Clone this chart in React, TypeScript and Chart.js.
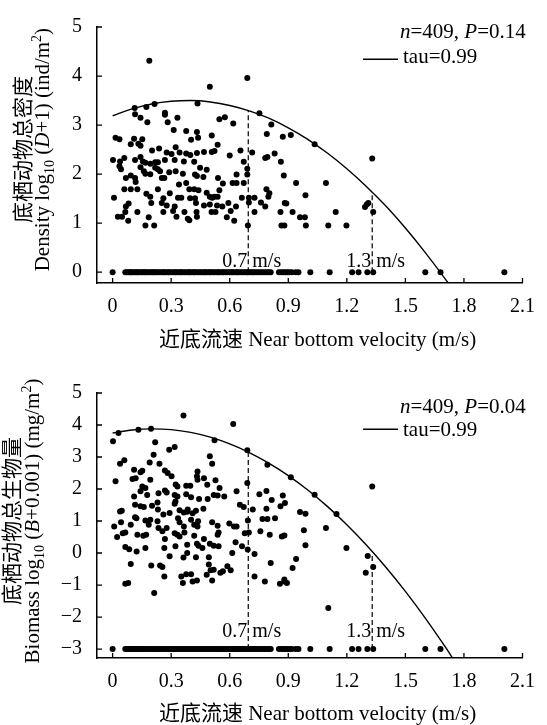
import React, { useEffect, useRef } from "react";
import { Chart, registerables } from "chart.js";

Chart.register(...registerables);

const SERIF = "'Liberation Serif', 'Times New Roman', serif";
const CJK = "'Noto Sans CJK SC', sans-serif";

// ---------- axis ticks ----------
const xTickValues = [0, 0.3, 0.6, 0.9, 1.2, 1.5, 1.8, 2.1];
const xTickLabels = ["0", "0.3", "0.6", "0.9", "1.2", "1.5", "1.8", "2.1"];
const densityTickValues = [0, 1, 2, 3, 4, 5];
const densityTickLabels = ["0", "1", "2", "3", "4", "5"];
const biomassTickValues = [-3, -2, -1, 0, 1, 2, 3, 4, 5];
const biomassTickLabels = ["\u22123", "\u22122", "\u22121", "0", "1", "2", "3", "4", "5"];

// ---------- density (top panel), non-zero samples ----------
const densityVelocity = [
  0.188, 0.69, 0.498, 0.113, 0.173, 0.215, 0.435, 0.115, 0.143, 0.178,
  0.268, 0.268, 0.332, 0.282, 0.547, 0.575, 0.618, 0.752, 0.813, 0.872,
  0.79, 0.015, 0.035, 0.11, 0.152, 0.093, 0.132, 0.143, 0.313, 0.377,
  0.432, 0.438, 0.402, 0.508, 0.538, 0.323, 0.238, 0.202, 0.277, 0.302,
  0.343, 0.377, 0.398, 0.432, 0.468, 0.508, 0.522, 0.6, 0.655, 0.715,
  0.002, 0.038, 0.06, 0.115, 0.143, 0.155, 0.168, 0.193, 0.218, 0.232,
  0.268, 0.318, 0.365, 0.418, 0.672, 0.782, 0.793, 0.83, 0.862, 0.035,
  0.043, 0.143, 0.168, 0.16, 0.193, 0.218, 0.232, 0.243, 0.29, 0.323,
  0.36, 0.448, 0.482, 0.422, 0.432, 0.465, 0.54, 0.635, 0.69, 0.69,
  0.877, 0.068, 0.093, 0.115, 0.118, 0.252, 0.265, 0.34, 0.377, 0.565,
  0.615, 0.635, 0.672, 0.06, 0.093, 0.127, 0.232, 0.293, 0.393, 0.418,
  0.44, 0.482, 0.498, 0.51, 0.538, 0.547, 0.522, 0.007, 0.173, 0.193,
  0.26, 0.335, 0.352, 0.397, 0.422, 0.662, 0.698, 0.727, 0.798, 0.803,
  0.788, 0.068, 0.082, 0.198, 0.252, 0.277, 0.318, 0.427, 0.468, 0.498,
  0.535, 0.562, 0.593, 0.632, 0.698, 0.76, 0.782, 0.882, 0.065, 0.127,
  0.26, 0.31, 0.368, 0.43, 0.507, 0.527, 0.605, 0.727, 0.86, 0.027,
  0.048, 0.185, 0.327, 0.385, 0.393, 0.432, 0.585, 0.623, 0.08, 0.168,
  0.213, 0.693, 0.865, 0.88, 0.913, 1.035, 1.33, 0.94, 1.093, 0.988,
  0.89, 0.922, 0.96, 0.985, 1.143, 1.293, 1.302, 1.31, 1.335, 0.99,
  1.105, 1.198,
];
const densityValue = [
  4.31, 3.96, 3.78, 3.35, 3.37, 3.43, 3.44, 3.22, 3.15, 3.06,
  3.25, 3.21, 3.15, 3.06, 3.12, 3.16, 3.03, 3.24, 3.01, 2.76,
  2.82, 2.74, 2.71, 2.72, 2.71, 2.61, 2.62, 2.58, 2.9, 2.88,
  2.86, 2.74, 2.7, 2.79, 2.6, 2.55, 2.52, 2.48, 2.44, 2.41,
  2.44, 2.42, 2.39, 2.43, 2.45, 2.45, 2.47, 2.38, 2.48, 2.44,
  2.29, 2.26, 2.33, 2.29, 2.35, 2.26, 2.23, 2.21, 2.24, 2.24,
  2.29, 2.29, 2.26, 2.25, 2.25, 2.33, 2.35, 2.42, 2.25, 2.16,
  2.1, 2.14, 2.01, 2.06, 2.0, 2.13, 2.1, 2.06, 2.04, 2.06,
  2.01, 2.13, 2.09, 1.99, 1.96, 1.94, 1.92, 1.99, 2.11, 1.99,
  1.97, 1.92, 1.97, 1.92, 1.84, 1.92, 1.92, 1.79, 1.82, 1.81,
  1.82, 1.82, 1.82, 1.69, 1.69, 1.69, 1.69, 1.61, 1.69, 1.69,
  1.67, 1.62, 1.54, 1.52, 1.54, 1.67, 1.54, 1.52, 1.6, 1.54,
  1.51, 1.52, 1.52, 1.51, 1.51, 1.52, 1.52, 1.52, 1.54, 1.61,
  1.69, 1.34, 1.4, 1.41, 1.41, 1.36, 1.34, 1.41, 1.36, 1.38,
  1.36, 1.34, 1.41, 1.34, 1.42, 1.42, 1.34, 1.41, 1.23, 1.23,
  1.23, 1.25, 1.23, 1.23, 1.23, 1.23, 1.25, 1.23, 1.23, 1.13,
  1.13, 1.12, 1.13, 1.09, 1.06, 1.13, 1.12, 1.05, 1.05, 0.95,
  0.95, 0.95, 0.95, 0.95, 2.8, 2.61, 2.32, 1.82, 1.82, 1.57,
  1.4, 1.23, 1.12, 1.12, 1.23, 1.33, 1.38, 1.41, 1.23, 0.95,
  0.95, 0.95,
];

// ---------- biomass (bottom panel), non-zero samples ----------
const biomassVelocity = [
  0.363, 0.618, 0.002, 0.03, 0.132, 0.197, 0.218, 0.29, 0.318, 0.522,
  0.69, 0.793, 0.498, 0.51, 0.21, 0.19, 0.24, 0.06, 0.038, 0.11,
  0.143, 0.152, 0.102, 0.118, 0.015, 0.193, 0.268, 0.282, 0.302, 0.323,
  0.332, 0.377, 0.398, 0.435, 0.432, 0.435, 0.468, 0.485, 0.527, 0.548,
  0.152, 0.168, 0.11, 0.143, 0.177, 0.235, 0.268, 0.277, 0.318, 0.332,
  0.377, 0.402, 0.443, 0.487, 0.518, 0.538, 0.572, 0.635, 0.69, 0.752,
  0.788, 0.815, 0.872, 0.86, 0.115, 0.143, 0.16, 0.202, 0.23, 0.232,
  0.322, 0.318, 0.343, 0.365, 0.385, 0.41, 0.427, 0.465, 0.382, 0.652,
  0.672, 0.718, 0.768, 0.793, 0.832, 0.788, 0.038, 0.047, 0.115, 0.122,
  0.168, 0.193, 0.23, 0.26, 0.292, 0.335, 0.343, 0.365, 0.402, 0.418,
  0.435, 0.438, 0.51, 0.538, 0.543, 0.598, 0.622, 0.635, 0.693, 0.008,
  0.043, 0.093, 0.185, 0.023, 0.052, 0.065, 0.127, 0.157, 0.172, 0.235,
  0.255, 0.277, 0.318, 0.332, 0.343, 0.368, 0.418, 0.468, 0.538, 0.677,
  0.698, 0.757, 0.805, 0.867, 0.065, 0.085, 0.123, 0.168, 0.265, 0.268,
  0.322, 0.382, 0.432, 0.44, 0.46, 0.498, 0.518, 0.543, 0.613, 0.63,
  0.663, 0.692, 0.727, 0.292, 0.363, 0.382, 0.427, 0.493, 0.093, 0.198,
  0.243, 0.255, 0.265, 0.493, 0.502, 0.518, 0.552, 0.565, 0.588, 0.605,
  0.482, 0.352, 0.377, 0.402, 0.36, 0.41, 0.432, 0.51, 0.065, 0.08,
  0.213, 0.727, 0.78, 0.81, 0.857, 0.88, 0.913, 1.035, 1.147, 1.33,
  0.883, 0.96, 0.988, 1.093, 0.98, 0.988, 0.88, 1.198, 0.94, 0.922,
  1.307, 1.335, 1.297, 0.88, 0.893, 1.105,
];
const biomassValue = [
  4.3, 4.03, 3.49, 3.75, 3.85, 3.88, 3.46, 3.23, 3.31, 3.52,
  3.21, 2.76, 3.02, 2.79, 3.07, 2.83, 2.79, 2.9, 2.79, 2.6,
  2.52, 2.57, 2.31, 2.34, 2.24, 2.29, 2.58, 2.5, 2.4, 2.14,
  2.08, 2.1, 2.1, 2.55, 2.4, 2.29, 2.34, 2.13, 2.27, 2.03,
  2.08, 2.03, 1.77, 1.93, 1.81, 1.87, 1.95, 1.89, 1.81, 1.77,
  1.84, 1.74, 1.69, 1.69, 1.81, 1.8, 1.77, 1.93, 2.19, 1.84,
  1.94, 1.66, 1.8, 1.46, 1.51, 1.46, 1.44, 1.48, 1.58, 1.36,
  1.61, 1.54, 1.34, 1.27, 1.36, 1.24, 1.32, 1.38, 1.29, 1.51,
  1.44, 1.36, 1.06, 1.06, 1.09, 1.38, 1.3, 1.32, 1.12, 1.09,
  1.02, 1.04, 0.99, 1.2, 1.25, 1.09, 0.96, 0.83, 1.04, 0.88,
  0.83, 0.99, 0.96, 0.85, 0.64, 0.92, 0.83, 0.83, 1.02, 0.83,
  0.96, 0.88, 0.88, 0.5, 0.62, 0.64, 0.57, 0.54, 0.57, 0.78,
  0.68, 0.78, 0.62, 0.57, 0.52, 0.64, 0.54, 0.44, 0.57, 0.62,
  0.64, 0.68, 0.57, 0.52, 0.19, 0.12, 0.05, 0.16, 0.16, 0.44,
  0.21, 0.26, 0.29, 0.23, 0.16, 0.29, 0.23, 0.21, 0.0, 0.34,
  0.21, 0.11, -0.03, -0.1, -0.14, 0.0, -0.13, -0.13, -0.34, -0.39,
  -0.39, -0.44, -0.73, -0.36, -0.54, -0.52, -0.62, -0.57, -0.41, -0.54,
  -0.68, -0.73, -0.66, -0.66, -0.94, -0.89, -0.86, -0.86, -0.96, -0.94,
  -1.25, -0.73, -0.89, -0.31, -0.96, -0.89, 2.37, 1.82, 1.22, 2.08,
  1.56, 1.28, 1.23, 0.78, 0.71, 0.24, 0.55, 0.16, -0.19, -0.47,
  -0.09, -0.44, -0.62, -0.83, -0.94, -1.72,
];

// ---------- samples at the lower floor (0 for density, -3 for biomass) ----------
const floorVelocity = [
  0, 0.065, 0.072, 0.08, 0.088, 0.095, 0.1, 0.11, 0.118, 0.125,
  0.13, 0.14, 0.15, 0.155, 0.165, 0.17, 0.18, 0.19, 0.2, 0.205,
  0.215, 0.22, 0.23, 0.24, 0.25, 0.26, 0.265, 0.275, 0.285, 0.29,
  0.3, 0.31, 0.32, 0.325, 0.335, 0.345, 0.35, 0.36, 0.37, 0.38,
  0.39, 0.395, 0.405, 0.415, 0.42, 0.43, 0.44, 0.45, 0.46, 0.47,
  0.475, 0.485, 0.495, 0.5, 0.51, 0.52, 0.53, 0.54, 0.545, 0.555,
  0.565, 0.57, 0.58, 0.59, 0.6, 0.61, 0.615, 0.625, 0.635, 0.64,
  0.65, 0.66, 0.67, 0.68, 0.69, 0.695, 0.705, 0.715, 0.72, 0.73,
  0.74, 0.75, 0.76, 0.77, 0.78, 0.79, 0.8, 0.81, 0.852, 0.865,
  0.875, 0.885, 0.895, 0.905, 0.918, 0.938, 0.952, 1.013, 1.112, 1.227,
  1.26, 1.305, 1.335, 1.602, 1.68, 2.007,
];
const densityFloor = 0;
const biomassFloor = -3;

// ---------- tau = 0.99 quantile curves ----------
const densityCurveVelocity = [0, 0.1, 0.2, 0.3, 0.4, 0.5, 0.6, 0.7, 0.8, 0.9, 1.0, 1.1, 1.2, 1.3, 1.4, 1.5, 1.6, 1.7, 1.72];
const densityCurve = [3.19, 3.33, 3.43, 3.485, 3.5, 3.47, 3.4, 3.29, 3.14, 2.945, 2.71, 2.43, 2.11, 1.75, 1.35, 0.9, 0.41, -0.115, -0.226];
const biomassCurveVelocity = [0, 0.1, 0.2, 0.3, 0.4, 0.5, 0.6, 0.7, 0.8, 0.9, 1.0, 1.1, 1.2, 1.3, 1.4, 1.5, 1.6, 1.7, 1.75];
const biomassCurve = [3.75, 3.846, 3.88, 3.854, 3.768, 3.62, 3.41, 3.14, 2.81, 2.42, 1.97, 1.457, 0.883, 0.249, -0.445, -1.2, -2.018, -2.896, -3.357];

// ---------- velocity thresholds ----------
const thresholdVelocity = [0.695, 1.33];
const thresholdLabels = ["0.7 m/s", "1.3 m/s"];
const densityThresholdTop = [3.29, 1.6];
const biomassThresholdTop = [3.2, 0.0];

type Seg = { t: string; italic?: boolean; sub?: boolean; sup?: boolean; cjk?: boolean };

function segFont(s: Seg, size: number) {
  const sz = s.sub || s.sup ? Math.round(size * 0.66) : size;
  if (s.cjk) return `${sz}px ${CJK}`;
  return `${s.italic ? "italic " : ""}${sz}px ${SERIF}`;
}

function drawRich(ctx: CanvasRenderingContext2D, segs: Seg[], x: number, y: number, size: number, align: "left" | "center") {
  ctx.textAlign = "left";
  ctx.textBaseline = "alphabetic";
  const widths = segs.map((s) => {
    ctx.font = segFont(s, size);
    return ctx.measureText(s.t).width;
  });
  const total = widths.reduce((a, b) => a + b, 0);
  let cx = align === "center" ? x - total / 2 : x;
  segs.forEach((s, i) => {
    ctx.font = segFont(s, size);
    const dy = s.sub ? size * 0.25 : s.sup ? -size * 0.38 : 0;
    ctx.fillText(s.t, cx, y + dy);
    cx += widths[i];
  });
}

type PanelCfg = {
  xs: number[];
  ys: number[];
  floor: number;
  curveX: number[];
  curveY: number[];
  thresholdTop: number[];
  yMin: number;
  yMax: number;
  yTicks: number[];
  yLabels: string[];
  padTop: number;
  xAxisHeight: number;
  yTitleCn: string;
  yTitleEn: Seg[];
  cnX: number;
  enX: number;
  stats: Seg[];
  statsBaseline: number;
  legendLineY: number;
  legendBaseline: number;
  thresholdBaseline: number;
  xTitleBaseline: number;
};

function buildChart(canvas: HTMLCanvasElement, cfg: PanelCfg) {
  const points = cfg.xs.map((x, i) => ({ x, y: cfg.ys[i] }));
  const floorPts = floorVelocity.map((x) => ({ x, y: cfg.floor }));
  const curve = cfg.curveX.map((x, i) => ({ x, y: cfg.curveY[i] }));
  const dashSets = thresholdVelocity.map((x, i) => ({
    data: [
      { x, y: cfg.floor },
      { x, y: cfg.thresholdTop[i] },
    ],
    showLine: true,
    pointRadius: 0,
    borderColor: "#000",
    borderWidth: 1.2,
    borderDash: [5, 3],
    order: 1,
  }));

  const decor = {
    id: "decor",
    afterDraw(chart: any) {
      const ctx: CanvasRenderingContext2D = chart.ctx;
      const xs = chart.scales.x;
      const ys = chart.scales.y;
      const ca = chart.chartArea;
      ctx.save();
      ctx.fillStyle = "#000";
      ctx.strokeStyle = "#000";
      ctx.lineWidth = 1.3;
      ctx.setLineDash([]);
      // inward tick marks
      ctx.beginPath();
      xTickValues.forEach((v) => {
        const px = xs.getPixelForValue(v);
        ctx.moveTo(px, ca.bottom);
        ctx.lineTo(px, ca.bottom - 5);
      });
      cfg.yTicks.forEach((v) => {
        const py = ys.getPixelForValue(v);
        ctx.moveTo(ca.left, py);
        ctx.lineTo(ca.left + 5, py);
      });
      ctx.stroke();

      // y title (two rotated lines)
      const yc = (ys.getPixelForValue(cfg.yTicks[0]) + ys.getPixelForValue(cfg.yTicks[cfg.yTicks.length - 1])) / 2;
      ctx.save();
      ctx.translate(cfg.cnX, yc);
      ctx.rotate(-Math.PI / 2);
      ctx.font = `21px ${CJK}`;
      ctx.textAlign = "center";
      ctx.textBaseline = "middle";
      ctx.fillText(cfg.yTitleCn, 0, 0);
      ctx.restore();
      ctx.save();
      ctx.translate(cfg.enX, yc);
      ctx.rotate(-Math.PI / 2);
      drawRich(ctx, cfg.yTitleEn, 0, 0, 21, "center");
      ctx.restore();

      // x title
      const xc = (xs.getPixelForValue(xTickValues[0]) + xs.getPixelForValue(xTickValues[xTickValues.length - 1])) / 2;
      drawRich(
        ctx,
        [{ t: "近底流速", cjk: true }, { t: " Near bottom velocity (m/s)" }],
        xc,
        cfg.xTitleBaseline,
        21,
        "center"
      );

      // statistics and legend
      drawRich(ctx, cfg.stats, 400, cfg.statsBaseline, 21, "left");
      ctx.beginPath();
      ctx.lineWidth = 1.4;
      ctx.moveTo(363, cfg.legendLineY);
      ctx.lineTo(398, cfg.legendLineY);
      ctx.stroke();
      drawRich(ctx, [{ t: "tau=0.99" }], 403, cfg.legendBaseline, 21, "left");

      // threshold labels
      thresholdVelocity.forEach((v, i) => {
        const px = xs.getPixelForValue(v);
        drawRich(ctx, [{ t: thresholdLabels[i] }], px - 26, cfg.thresholdBaseline, 20, "left");
      });
      ctx.restore();
    },
  };

  const dotStyle = {
    pointRadius: 3,
    pointBackgroundColor: "#000",
    pointBorderWidth: 0,
    backgroundColor: "#000",
    borderColor: "#000",
    order: 3,
  };

  return new Chart(canvas, {
    type: "scatter",
    data: {
      datasets: [
        { data: points, ...dotStyle },
        { data: floorPts, ...dotStyle },
        {
          data: curve,
          showLine: true,
          pointRadius: 0,
          borderColor: "#000",
          borderWidth: 1.4,
          cubicInterpolationMode: "monotone",
          order: 2,
        },
        ...dashSets,
      ] as any,
    },
    options: {
      responsive: false,
      animation: false,
      devicePixelRatio: 1,
      events: [],
      layout: { padding: { top: cfg.padTop, right: 13, left: 0, bottom: 0 } },
      plugins: { legend: { display: false }, tooltip: { enabled: false } },
      scales: {
        x: {
          type: "linear",
          min: -0.08,
          max: 2.1,
          afterBuildTicks: (s: any) => {
            s.ticks = xTickValues.map((v) => ({ value: v }));
          },
          afterFit: (s: any) => {
            s.height = cfg.xAxisHeight;
          },
          grid: { display: false, drawTicks: false },
          border: { display: true, color: "#000", width: 1.5 },
          ticks: {
            color: "#000",
            font: { family: SERIF, size: 20 },
            padding: 12,
            maxRotation: 0,
            autoSkip: false,
            callback: (_v: any, i: number) => xTickLabels[i],
          },
        },
        y: {
          type: "linear",
          min: cfg.yMin,
          max: cfg.yMax,
          afterBuildTicks: (s: any) => {
            s.ticks = cfg.yTicks.map((v) => ({ value: v }));
          },
          afterFit: (s: any) => {
            s.width = 97;
          },
          grid: { display: false, drawTicks: false },
          border: { display: true, color: "#000", width: 1.5 },
          ticks: {
            color: "#000",
            font: { family: SERIF, size: 20 },
            padding: 15,
            autoSkip: false,
            callback: (_v: any, i: number) => cfg.yLabels[i],
          },
        },
      },
    } as any,
    plugins: [decor],
  });
}

const densityPanel: PanelCfg = {
  xs: densityVelocity,
  ys: densityValue,
  floor: densityFloor,
  curveX: densityCurveVelocity,
  curveY: densityCurve,
  thresholdTop: densityThresholdTop,
  yMin: -0.22,
  yMax: 5,
  yTicks: densityTickValues,
  yLabels: densityTickLabels,
  padTop: 16,
  xAxisHeight: 79,
  yTitleCn: "底栖动物总密度",
  yTitleEn: [
    { t: "Density log" },
    { t: "10", sub: true },
    { t: " (" },
    { t: "D", italic: true },
    { t: "+1) (ind/m" },
    { t: "2", sup: true },
    { t: ")" },
  ],
  cnX: 22.5,
  enX: 48.5,
  stats: [{ t: "n", italic: true }, { t: "=409, " }, { t: "P", italic: true }, { t: "=0.14" }],
  statsBaseline: 38.3,
  legendLineY: 59.3,
  legendBaseline: 63.3,
  thresholdBaseline: 266.7,
  xTitleBaseline: 346,
};

const biomassPanel: PanelCfg = {
  xs: biomassVelocity,
  ys: biomassValue,
  floor: biomassFloor,
  curveX: biomassCurveVelocity,
  curveY: biomassCurve,
  thresholdTop: biomassThresholdTop,
  yMin: -3.28,
  yMax: 5,
  yTicks: biomassTickValues,
  yLabels: biomassTickLabels,
  padTop: 31,
  xAxisHeight: 67,
  yTitleCn: "底栖动物总生物量",
  yTitleEn: [
    { t: "Biomass log" },
    { t: "10", sub: true },
    { t: " (" },
    { t: "B", italic: true },
    { t: "+0.001) (mg/m" },
    { t: "2", sup: true },
    { t: ")" },
  ],
  cnX: 11,
  enX: 38.8,
  stats: [{ t: "n", italic: true }, { t: "=409, " }, { t: "P", italic: true }, { t: "=0.04" }],
  statsBaseline: 51.3,
  legendLineY: 67.3,
  legendBaseline: 73.8,
  thresholdBaseline: 274.7,
  xTitleBaseline: 358,
};

export default function App() {
  const topRef = useRef<HTMLCanvasElement>(null);
  const botRef = useRef<HTMLCanvasElement>(null);

  useEffect(() => {
    const c1 = buildChart(topRef.current as HTMLCanvasElement, densityPanel);
    const c2 = buildChart(botRef.current as HTMLCanvasElement, biomassPanel);
    return () => {
      c1.destroy();
      c2.destroy();
    };
  }, []);

  return (
    <div style={{ position: "absolute", left: 0, top: 0, width: 547, height: 725, background: "#fff" }}>
      <canvas ref={topRef} width={547} height={362} style={{ position: "absolute", left: 0, top: 0 }} />
      <canvas ref={botRef} width={547} height={363} style={{ position: "absolute", left: 0, top: 362 }} />
    </div>
  );
}
